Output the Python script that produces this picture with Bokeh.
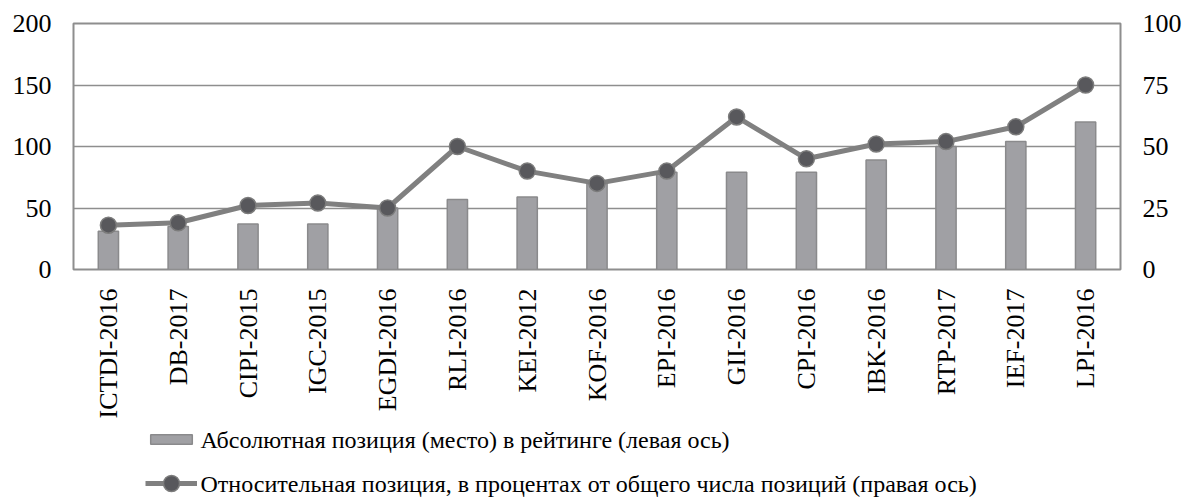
import math
from bokeh.plotting import figure
from bokeh.layouts import column
from bokeh.models import (ColumnDataSource, Range1d, LinearAxis, FixedTicker,
                          Legend, LegendItem, FactorRange, Label)
from bokeh.embed import file_html
from bokeh.resources import INLINE

categories = ["ICTDI-2016", "DB-2017", "CIPI-2015", "IGC-2015", "EGDI-2016",
              "RLI-2016", "KEI-2012", "KOF-2016", "EPI-2016", "GII-2016",
              "CPI-2016", "IBK-2016", "RTP-2017", "IEF-2017", "LPI-2016"]
absolute_pos = [31, 35, 37, 37, 50, 57, 59, 70, 79, 79, 79, 89, 100, 104, 120]
relative_pct = [18, 19, 26, 27, 25, 50, 40, 35, 40, 62, 45, 51, 52, 58, 75]
left_ticks = [0, 50, 100, 150, 200]
right_ticks = [0, 25, 50, 75, 100]
legend_labels = ["Абсолютная позиция (место) в рейтинге (левая ось)",
                 "Относительная позиция, в процентах от общего числа позиций (правая ось)"]

FONT = "Liberation Serif"
LEG_FONT = "Liberation Serif, DejaVu Serif"
FS = "26px"
LEG_FS = "24px"

BAR_STYLE = dict(fill_color="#a0a0a4", line_color="#8a8a8c", line_width=1.5)
LINE_STYLE = dict(line_color="#808080", line_width=5)
DOT_STYLE = dict(fill_color="#58585c", line_color="#7c7c7c", line_width=1.5)

src = ColumnDataSource(dict(cat=categories, absv=absolute_pos, rel=relative_pct))
xr = FactorRange(*categories, range_padding=0)

p = figure(x_range=xr, y_range=Range1d(0, 200),
           width=1184, height=421,
           min_border_left=73, min_border_top=23, min_border_right=0, min_border_bottom=0,
           output_backend="svg", toolbar_location=None)
p.extra_y_ranges = {"right": Range1d(0, 100)}

p.outline_line_color = "#8e8e8e"
p.outline_line_width = 2

p.vbar(x="cat", top="absv", width=0.29, source=src, **BAR_STYLE)
p.line(x="cat", y="rel", source=src, y_range_name="right", **LINE_STYLE)
p.scatter(x="cat", y="rel", source=src, y_range_name="right", size=16, **DOT_STYLE)

def style_axis(ax):
    ax.axis_line_color = None
    ax.major_tick_line_color = None
    ax.minor_tick_line_color = None
    ax.major_tick_out = 0
    ax.major_tick_in = 0
    ax.major_label_text_font = FONT
    ax.major_label_text_font_size = FS
    ax.major_label_text_color = "black"

ya = p.yaxis[0]
ya.ticker = FixedTicker(ticks=left_ticks)
style_axis(ya)
ya.major_label_standoff = 22

ra = LinearAxis(y_range_name="right", ticker=FixedTicker(ticks=right_ticks))
style_axis(ra)
ra.major_label_standoff = 22
p.add_layout(ra, "right")

xa = p.xaxis[0]
style_axis(xa)
xa.major_label_orientation = math.pi / 2
xa.major_label_standoff = 19

p.xgrid.grid_line_color = None
p.ygrid.ticker = FixedTicker(ticks=left_ticks)
p.ygrid.grid_line_color = "#8e8e8e"
p.ygrid.grid_line_width = 1.5

# legend strip below the chart; its renderers are hidden, only their legend swatches show
q = figure(width=1184, height=76, min_border=0, x_axis_location=None, y_axis_location=None,
           x_range=xr, y_range=Range1d(-1000, -999),
           output_backend="svg", toolbar_location=None)
q.outline_line_color = None
q.grid.grid_line_color = None
lb = q.vbar(x="cat", top="absv", width=0.29, source=src, **BAR_STYLE)
ll = q.line(x="cat", y="rel", source=src, **LINE_STYLE)
ld = q.scatter(x="cat", y="rel", source=src, size=16, **DOT_STYLE)
for r in (lb, ll, ld):
    r.visible = False

common = dict(orientation="vertical", glyph_width=52, label_height=26,
              label_standoff=3, padding=0, margin=0, border_line_color=None,
              background_fill_alpha=0, label_text_font=LEG_FONT, label_text_font_size=LEG_FS,
              label_text_color="black", inactive_fill_alpha=0, click_policy="none")
leg1 = Legend(items=[LegendItem(label=" ", renderers=[lb])],
              location=(72, 45), glyph_height=12, **common)
leg2 = Legend(items=[LegendItem(label=" ", renderers=[ll, ld])],
              location=(72, -6), glyph_height=40, **common)
q.add_layout(leg1, "center")
q.add_layout(leg2, "center")

for txt, yy in zip(legend_labels, [58, 14]):
    q.add_layout(Label(x=127, y=yy, x_units="screen", y_units="screen", text=txt,
                       text_font=LEG_FONT, text_font_size=LEG_FS, text_color="black",
                       text_baseline="middle", text_align="left"))

open("out.html", "w").write(file_html(column(p, q, spacing=0), INLINE))
